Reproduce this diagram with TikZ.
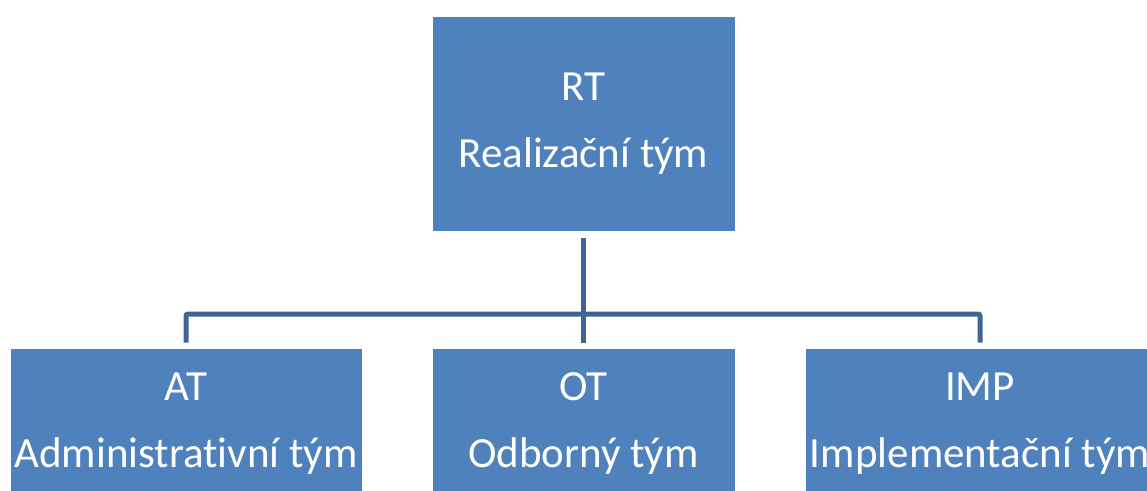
\documentclass[tikz,border=0pt]{standalone}
\usepackage{fontspec}
\setmainfont[Ligatures=NoCommon]{Carlito}
\usepackage{tikz}
\usetikzlibrary{calc}
\usetikzlibrary{positioning}

\definecolor{teamfill}{HTML}{4F81BD}
\definecolor{linkcol}{HTML}{3D6696}

\begin{document}
\begin{tikzpicture}[x=1pt,y=-1pt,
    team/.style={fill=teamfill, draw=white, line width=0.6pt, text=white, align=center,
                 font=\fontsize{43}{67}\selectfont, inner sep=0pt},
    link/.style={draw=linkcol, line width=5pt, rounded corners=2pt}]
        \clip (0,0) rectangle (1147,490);
        \node[team, minimum width=303pt, minimum height=215pt] (rt) at (583.5,124) {RT\\Realizační tým};
        \node[team, minimum width=352pt, minimum height=152pt] (at) at (186,424) {AT\\Administrativní tým};
        \node[team, minimum width=303pt, minimum height=152pt] (ot) at (583.5,424) {OT\\Odborný tým};
        \node[team, minimum width=350pt, minimum height=152pt] (imp) at (980,424) {IMP\\Implementační tým};
        \coordinate (bus) at (583.5,314);

        \draw[link] ([yshift=-6pt]rt.south) -- (bus);
        \draw[link] ([yshift=5pt]at.north) |- (bus) -| ([yshift=5pt]imp.north);
        \draw[link] (bus) -- ([yshift=5pt]ot.north);
    \end{tikzpicture}
\end{document}
